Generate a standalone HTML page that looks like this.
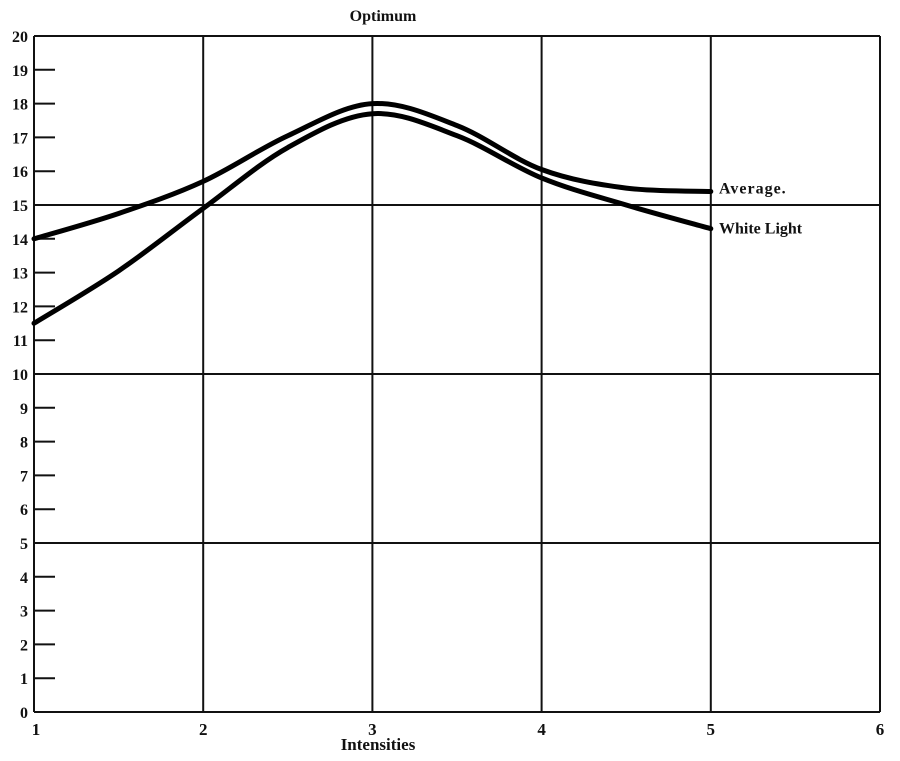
<!DOCTYPE html>
<html><head><meta charset="utf-8"><style>
body{margin:0;background:#fff;}
svg text{font-family:"Liberation Serif",serif;font-weight:bold;fill:#111;}
</style></head><body>
<svg id="chart" width="900" height="756" xmlns="http://www.w3.org/2000/svg"></svg>
<script>
const xTicks=[1,2,3,4,5,6];
const yTicks=[0,1,2,3,4,5,6,7,8,9,10,11,12,13,14,15,16,17,18,19,20];
const xs=[1,1.5,2,2.5,3,3.5,4,4.5,5];
const averageVals=[14.0,14.75,15.7,17.05,18.0,17.35,16.05,15.5,15.4];
const whiteVals=[11.5,13.05,14.9,16.7,17.7,17.05,15.8,15.0,14.3];
const X=v=>34+(v-1)*169.2;
const Y=v=>712-v*33.8;
const svg=document.getElementById('chart');
const NS='http://www.w3.org/2000/svg';
function mk(t,a){const e=document.createElementNS(NS,t);for(const k in a)e.setAttribute(k,a[k]);svg.appendChild(e);return e;}
// horizontal lines / ticks
yTicks.forEach(v=>{
  const major=v%5===0;
  const l=mk('line',{x1:34,x2:major?880:55,y1:Y(v),y2:Y(v),stroke:'#111','stroke-width':major?2:2});
  
  
  const t=mk('text',{x:28,y:Y(v)+6,'text-anchor':'end','font-size':16});
  t.textContent=v;
  
  
});
xTicks.forEach(v=>{
  const l=mk('line',{x1:X(v),x2:X(v),y1:Y(20),y2:Y(0),stroke:'#111','stroke-width':2});
  
  
  const t=mk('text',{x:X(v)+(v===1?2:0),y:735,'text-anchor':'middle','font-size':17});
  t.textContent=v;
  
  
});
function path(vals){
  const p=xs.map((x,i)=>[X(x),Y(vals[i])]);
  let d='M'+p[0][0]+','+p[0][1];
  for(let i=0;i<p.length-1;i++){
    const p0=p[Math.max(i-1,0)],p1=p[i],p2=p[i+1],p3=p[Math.min(i+2,p.length-1)];
    const c1=[p1[0]+(p2[0]-p0[0])/6,p1[1]+(p2[1]-p0[1])/6];
    const c2=[p2[0]-(p3[0]-p1[0])/6,p2[1]-(p3[1]-p1[1])/6];
    d+=` C${c1[0]},${c1[1]} ${c2[0]},${c2[1]} ${p2[0]},${p2[1]}`;
  }
  return d;
}
const a=mk('path',{d:path(averageVals),fill:'none',stroke:'#000','stroke-width':5,'stroke-linecap':'round'});


const w=mk('path',{d:path(whiteVals),fill:'none',stroke:'#000','stroke-width':5,'stroke-linecap':'round'});


const la=mk('text',{x:719,y:Y(averageVals[8])+2,'font-size':16,'letter-spacing':'1'});
la.textContent='Average.';


const lw=mk('text',{x:719,y:Y(whiteVals[8])+5,'font-size':16});
lw.textContent='White Light';


const ti=mk('text',{x:383,y:21,'text-anchor':'middle','font-size':16});
ti.textContent='Optimum';


const xt=mk('text',{x:378,y:750,'text-anchor':'middle','font-size':17});
xt.textContent='Intensities';


</script>
</body></html>
